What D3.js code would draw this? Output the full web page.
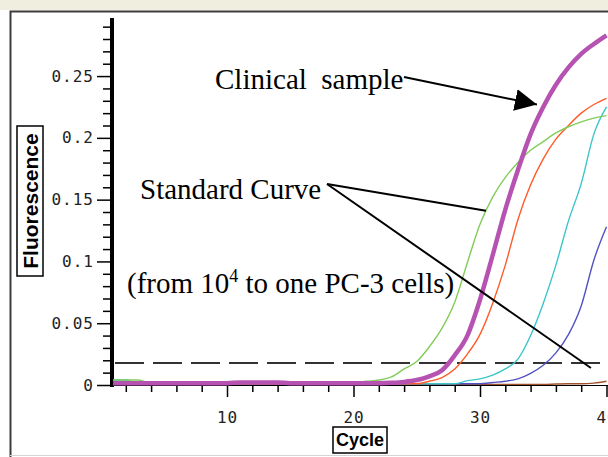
<!DOCTYPE html>
<html>
<head>
<meta charset="utf-8">
<script src="https://cdn.jsdelivr.net/npm/d3@7"></script>
<style>
  body { margin: 0; background: #fff; }
  svg { display: block; }
</style>
</head>
<body>
<div id="chart"></div>
<script>
// ---------------- data ----------------
const cycles = [1,2,3,4,5,6,7,8,9,10,11,12,13,14,15,16,17,18,19,20,
                21,22,23,24,25,26,27,28,29,30,31,32,33,34,35,36,37,38,39,40];

const brownVals = [0.0005,0.0005,0.0005,0.0005,0.0005,0.002,0.002,0.002,0.0005,0.0005,
                   0.0005,0.0005,0.0005,0.0005,0.0005,0.0005,0.0005,0.0005,0.0005,0.0005,
                   0.0005,0.0005,0.0005,0.0005,0.0005,0.0005,0.0005,0.0005,0.0005,0.0005,
                   0.0005,0.0005,0.0005,0.0005,0.0005,0.0008,0.001,0.001,0.0015,0.003];

const blueVals = [0.003,0.003,0.001,0.001,0.001,0.001,0.001,0.001,0.001,0.001,
                  0.001,0.001,0.001,0.001,0.001,0.001,0.001,0.001,0.001,0.001,
                  0.001,0.001,0.001,0.001,0.001,0.001,0.001,0.001,0.001,0.001,
                  0.002,0.003,0.005,0.0095,0.016,0.026,0.041,0.064,0.101,0.128];

const cyanVals = [0.004,0.004,0.001,0.001,0.001,0.001,0.001,0.001,0.001,0.001,
                  0.001,0.001,0.001,0.001,0.001,0.001,0.001,0.001,0.001,0.001,
                  0.001,0.001,0.001,0.001,0.001,0.001,0.001,0.001,0.0035,0.005,
                  0.008,0.013,0.021,0.040,0.066,0.097,0.133,0.163,0.203,0.225];

const orangeVals = [0.001,0.001,0.001,0.001,0.001,0.001,0.001,0.001,0.001,0.001,
                    0.001,0.001,0.001,0.001,0.001,0.001,0.001,0.001,0.001,0.001,
                    0.001,0.001,0.001,0.001,0.001,0.003,0.006,0.013,0.025,0.041,
                    0.066,0.097,0.134,0.162,0.183,0.199,0.210,0.220,0.227,0.232];

const greenVals = [0.004,0.004,0.004,0.0015,0.0015,0.0015,0.0015,0.0015,0.0015,0.0015,
                   0.0015,0.0015,0.0015,0.0015,0.0015,0.0015,0.0015,0.0015,0.0015,0.0015,
                   0.003,0.004,0.0065,0.013,0.019,0.031,0.046,0.067,0.099,0.130,
                   0.152,0.168,0.180,0.190,0.197,0.204,0.209,0.213,0.216,0.218];

const clinicalVals = [0.0015,0.0015,0.0015,0.0015,0.0015,0.0015,0.0015,0.0015,0.0015,0.0015,
                      0.002,0.002,0.002,0.002,0.0015,0.0015,0.0015,0.0015,0.0015,0.0015,
                      0.0015,0.0015,0.0018,0.0025,0.004,0.007,0.012,0.024,0.040,0.069,
                      0.105,0.142,0.174,0.203,0.225,0.243,0.257,0.268,0.276,0.283];

const series = [
  { name: "brown",    values: brownVals,    color: "#a0522d", width: 1.4 },
  { name: "blue",     values: blueVals,     color: "#5252c4", width: 1.4 },
  { name: "cyan",     values: cyanVals,     color: "#3cc6cc", width: 1.4 },
  { name: "orange",   values: orangeVals,   color: "#ff5a28", width: 1.4 },
  { name: "green",    values: greenVals,    color: "#82cc5a", width: 1.4 },
  { name: "clinical", values: clinicalVals, color: "#b652b2", width: 4.5 }
];

const yMajor = [0, 0.05, 0.1, 0.15, 0.2, 0.25];
const yMinor = [0.01,0.02,0.03,0.04,0.06,0.07,0.08,0.09,0.11,0.12,0.13,0.14,
                0.16,0.17,0.18,0.19,0.21,0.22,0.23,0.24,0.26,0.27,0.28,0.29];
const xMajor = [10, 20, 30, 40];
const xMinor = [2,4,6,8,12,14,16,18,22,24,26,28,32,34,36,38];

const threshold = 0.0178;

// ---------------- svg ----------------
const width = 608, height = 457;

const svg = d3.select("#chart").append("svg")
  .attr("width", width)
  .attr("height", height);

// window frame
svg.append("rect").attr("x", 0).attr("y", 0).attr("width", width).attr("height", 10).attr("fill", "#efeedf");
svg.append("path").attr("d", "M10.5,457 V11.5 H608").attr("fill", "none").attr("stroke", "#3c3c3c").attr("stroke-width", 2);
svg.append("line").attr("x1", 10).attr("x2", 608).attr("y1", 455.5).attr("y2", 455.5).attr("stroke", "#d4d4d4");

// scales
const x = d3.scaleLinear().domain([1, 40]).range([113.15, 606.5]);
const y = d3.scaleLinear().domain([0, 0.297]).range([385, 18]);

const tickFont = "'DejaVu Sans Mono', monospace";

// y axis
const yAxisMajor = d3.axisLeft(y).tickValues(yMajor).tickSize(15).tickPadding(3)
  .tickFormat(d => d === 0 ? "0" : String(d));
const gy = svg.append("g").attr("transform", "translate(112,0)").call(yAxisMajor);
gy.select(".domain").remove();
gy.selectAll("line").attr("stroke", "#000").attr("stroke-width", 1.5);
gy.selectAll("text").style("font-family", tickFont).style("font-size", "16px")
  .style("letter-spacing", "1px").attr("fill", "#222");

const gyMinor = svg.append("g").attr("transform", "translate(112,0)")
  .call(d3.axisLeft(y).tickValues(yMinor).tickSize(9).tickFormat(""));
gyMinor.select(".domain").remove();
gyMinor.selectAll("line").attr("stroke", "#000").attr("stroke-width", 1.5);

svg.append("line").attr("x1", 112).attr("x2", 112).attr("y1", y(0.297)).attr("y2", 387)
  .attr("stroke", "#000").attr("stroke-width", 4);

// x axis
const gx = svg.append("g").attr("transform", "translate(0,386)")
  .call(d3.axisBottom(x).tickValues(xMajor).tickSize(11).tickPadding(15));
gx.select(".domain").remove();
gx.selectAll("line").attr("stroke", "#000").attr("stroke-width", 1.5);
gx.selectAll("text").style("font-family", tickFont).style("font-size", "16px")
  .style("letter-spacing", "1px").attr("fill", "#222");

const gxMinor = svg.append("g").attr("transform", "translate(0,386)")
  .call(d3.axisBottom(x).tickValues(xMinor).tickSize(6).tickFormat(""));
gxMinor.select(".domain").remove();
gxMinor.selectAll("line").attr("stroke", "#000").attr("stroke-width", 1.5);

svg.append("line").attr("x1", 112).attr("x2", width).attr("y1", 385.5).attr("y2", 385.5)
  .attr("stroke", "#000").attr("stroke-width", 1);

// axis titles in boxes
const yTitle = svg.append("g").attr("transform", "translate(30,201) rotate(-90)");
yTitle.append("rect").attr("x", -75).attr("y", -13).attr("width", 150).attr("height", 26)
  .attr("fill", "#fff").attr("stroke", "#000").attr("stroke-width", 1.5);
yTitle.append("text").attr("text-anchor", "middle").attr("dy", "0.36em")
  .style("font-family", "'Liberation Sans', Arial, sans-serif").style("font-weight", "bold")
  .style("font-size", "21px").text("Fluorescence");

const xTitle = svg.append("g").attr("transform", "translate(360,440)");
xTitle.append("rect").attr("x", -27).attr("y", -13).attr("width", 54).attr("height", 26)
  .attr("fill", "#fff").attr("stroke", "#000").attr("stroke-width", 1.5);
xTitle.append("text").attr("text-anchor", "middle").attr("dy", "0.36em")
  .style("font-family", "'Liberation Sans', Arial, sans-serif").style("font-weight", "bold")
  .style("font-size", "18px").text("Cycle");

// threshold
svg.append("line").attr("x1", 115).attr("x2", width).attr("y1", y(threshold)).attr("y2", y(threshold))
  .attr("stroke", "#333").attr("stroke-width", 2).attr("stroke-dasharray", "29,9");

// ---------------- curves ----------------
const line = d3.line()
  .x((d, i) => x(cycles[i]))
  .y(d => y(d))
  .curve(d3.curveMonotoneX);

svg.append("g").selectAll("path")
  .data(series)
  .enter()
  .append("path")
  .attr("d", d => line(d.values))
  .attr("fill", "none")
  .attr("stroke", d => d.color)
  .attr("stroke-width", d => d.width)
  .attr("stroke-linejoin", "round");

// ---------------- annotations ----------------
const serif = "'Liberation Serif', 'Times New Roman', serif";

svg.append("defs").append("marker")
  .attr("id", "head")
  .attr("markerUnits", "userSpaceOnUse")
  .attr("markerWidth", 24).attr("markerHeight", 24)
  .attr("viewBox", "0 -12 24 24")
  .attr("refX", 22).attr("refY", 0)
  .attr("orient", "auto")
  .append("path").attr("d", "M0,-11 L22,0 L0,11 Z").attr("fill", "#000");

svg.append("text").attr("x", 215).attr("y", 89)
  .style("font-family", serif).style("font-size", "29px").style("white-space", "pre")
  .text("Clinical  sample");

svg.append("line").attr("x1", 404).attr("y1", 77).attr("x2", x(34.5)).attr("y2", y(0.227))
  .attr("stroke", "#000").attr("stroke-width", 2).attr("marker-end", "url(#head)");

svg.append("text").attr("x", 140).attr("y", 199)
  .style("font-family", serif).style("font-size", "29px")
  .text("Standard Curve");

svg.append("line").attr("x1", 327).attr("y1", 184).attr("x2", x(30.47)).attr("y2", y(0.141))
  .attr("stroke", "#000").attr("stroke-width", 2);
svg.append("line").attr("x1", 327).attr("y1", 184).attr("x2", x(38.77)).attr("y2", y(0.0138))
  .attr("stroke", "#000").attr("stroke-width", 2);

const note = svg.append("text").attr("x", 127).attr("y", 293)
  .style("font-family", serif).style("font-size", "29px");
note.append("tspan").text("(from 10");
note.append("tspan").attr("dy", -11).style("font-size", "18px").text("4");
note.append("tspan").attr("dy", 11).text(" to one PC-3 cells)");
</script>
</body>
</html>
